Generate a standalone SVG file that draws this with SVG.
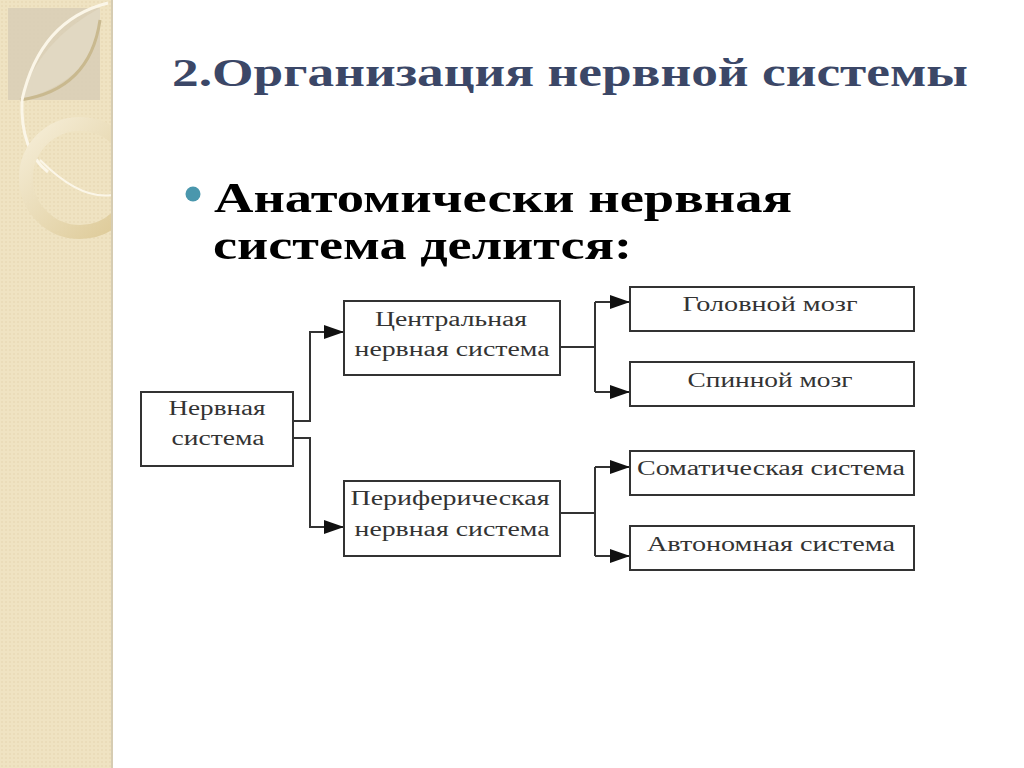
<svg xmlns="http://www.w3.org/2000/svg" width="1024" height="768" viewBox="0 0 1024 768">
<defs>
<style>
.box{fill:#ffffff;stroke:#333333;stroke-width:2}
.lbl{font-family:"Liberation Serif","Times New Roman",serif;font-size:20px;fill:#333333;text-anchor:middle}
.con{fill:none;stroke:#333333;stroke-width:2}
.title{font-family:"Liberation Serif","Times New Roman",serif;font-weight:bold;font-size:40px;fill:#3b4767}
.bul{font-family:"Liberation Serif","Times New Roman",serif;font-weight:bold;font-size:43px;fill:#000000}
</style>
<marker id="arr" viewBox="0 0 20 14" refX="20" refY="7" markerWidth="20" markerHeight="14" markerUnits="userSpaceOnUse" orient="auto">
<path d="M0,0 L20,7 L0,14 Z" fill="#111111"/>
</marker>
<pattern id="dots" width="4" height="4" patternUnits="userSpaceOnUse">
<rect width="4" height="4" fill="#efe3c2"/>
<circle cx="2" cy="2" r="0.8" fill="#e4d5ad"/>
</pattern>
<linearGradient id="ringg" x1="0" y1="0" x2="1" y2="1">
<stop offset="0" stop-color="#f6eed8"/>
<stop offset="1" stop-color="#dcc894"/>
</linearGradient>
<clipPath id="sideclip"><rect x="0" y="0" width="112" height="768"/></clipPath>
</defs>
<rect width="1024" height="768" fill="#ffffff"/>
<g id="sidebar">
<g clip-path="url(#sideclip)">
<rect x="0" y="0" width="112" height="768" fill="url(#dots)"/>
<rect x="8" y="8" width="92" height="92" fill="#d8ceb6" opacity="0.85"/>
<path d="M20,100 Q40,40 100,8 L100,20 Q95,80 20,100 Z" fill="#e2d9c4" opacity="0.8"/>
<path d="M20,100 Q90,90 100,20" fill="none" stroke="#c9b98f" stroke-width="3"/>
<path d="M108,3 Q40,20 22,100 Q20,150 48,172" fill="none" stroke="#fbf6e8" stroke-width="3"/>
<circle cx="80" cy="178" r="54" fill="none" stroke="url(#ringg)" stroke-width="14"/>
<path d="M40,160 Q80,200 112,195" fill="none" stroke="#fbf6e8" stroke-width="2"/>
</g>
<line x1="112" y1="0" x2="112" y2="768" stroke="#d6ccb2" stroke-width="2"/>
</g>
<text class="title" x="172" y="86" textLength="796" lengthAdjust="spacingAndGlyphs">2.Организация нервной системы</text>
<circle cx="193" cy="194" r="7.5" fill="#4a97ad"/>
<text class="bul" x="214" y="212" textLength="578" lengthAdjust="spacingAndGlyphs">Анатомически нервная</text>
<text class="bul" x="213" y="259" textLength="419" lengthAdjust="spacingAndGlyphs">система делится:</text>
<g id="connectors">
<path class="con" d="M293,421 H310 V332 H344" marker-end="url(#arr)"/>
<path class="con" d="M293,438 H310 V527 H344" marker-end="url(#arr)"/>
<path class="con" d="M560,347 H595"/>
<path class="con" d="M595,302 V392"/>
<path class="con" d="M595,302 H630" marker-end="url(#arr)"/>
<path class="con" d="M595,392 H630" marker-end="url(#arr)"/>
<path class="con" d="M560,513 H595"/>
<path class="con" d="M595,467 V556"/>
<path class="con" d="M595,467 H630" marker-end="url(#arr)"/>
<path class="con" d="M595,556 H630" marker-end="url(#arr)"/>
</g>
<g id="n-nervous">
<rect class="box" x="141" y="392" width="152" height="74"/>
<text class="lbl" x="217" y="415" textLength="97" lengthAdjust="spacingAndGlyphs">Нервная</text>
<text class="lbl" x="218" y="445" textLength="93" lengthAdjust="spacingAndGlyphs">система</text>
</g>
<g id="n-central">
<rect class="box" x="344" y="301" width="216" height="74"/>
<text class="lbl" x="451" y="326" textLength="152" lengthAdjust="spacingAndGlyphs">Центральная</text>
<text class="lbl" x="452" y="356" textLength="195" lengthAdjust="spacingAndGlyphs">нервная система</text>
</g>
<g id="n-peripheral">
<rect class="box" x="344" y="481" width="216" height="75"/>
<text class="lbl" x="450" y="505" textLength="199" lengthAdjust="spacingAndGlyphs">Периферическая</text>
<text class="lbl" x="452" y="536" textLength="195" lengthAdjust="spacingAndGlyphs">нервная система</text>
</g>
<g id="n-brain">
<rect class="box" x="630" y="287" width="284" height="44"/>
<text class="lbl" x="770" y="311" textLength="175" lengthAdjust="spacingAndGlyphs">Головной мозг</text>
</g>
<g id="n-spinal">
<rect class="box" x="630" y="362" width="284" height="44"/>
<text class="lbl" x="770" y="387" textLength="165" lengthAdjust="spacingAndGlyphs">Спинной мозг</text>
</g>
<g id="n-somatic">
<rect class="box" x="630" y="451" width="284" height="44"/>
<text class="lbl" x="771" y="475" textLength="268" lengthAdjust="spacingAndGlyphs">Соматическая система</text>
</g>
<g id="n-autonomic">
<rect class="box" x="630" y="526" width="284" height="44"/>
<text class="lbl" x="771" y="551" textLength="248" lengthAdjust="spacingAndGlyphs">Автономная система</text>
</g>
</svg>
